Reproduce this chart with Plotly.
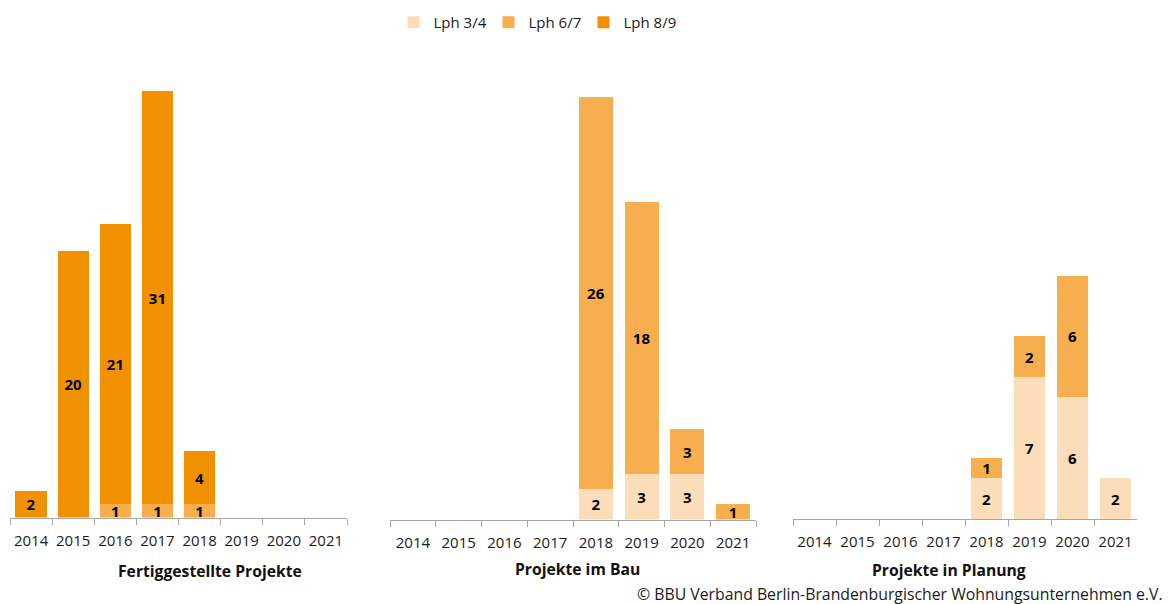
import plotly.graph_objects as go

# Projektstand nach Leistungsphasen (Anzahl Projekte je Jahr)
years = ["2014", "2015", "2016", "2017", "2018", "2019", "2020", "2021"]
series_names = ["Lph 3/4", "Lph 6/7", "Lph 8/9"]
panel_titles = ["Fertiggestellte Projekte", "Projekte im Bau", "Projekte in Planung"]

fertig_lph34 = [None, None, None, None, None, None, None, None]
fertig_lph67 = [None, None, 1, 1, 1, None, None, None]
fertig_lph89 = [2, 20, 21, 31, 4, None, None, None]

bau_lph34 = [None, None, None, None, 2, 3, 3, None]
bau_lph67 = [None, None, None, None, 26, 18, 3, 1]
bau_lph89 = [None, None, None, None, None, None, None, None]

planung_lph34 = [None, None, None, None, 2, 7, 6, 2]
planung_lph67 = [None, None, None, None, 1, 2, 6, None]
planung_lph89 = [None, None, None, None, None, None, None, None]

colors = ["#FCDDB9", "#F6AE4F", "#F29100"]

W, H = 1168, 604
FONT = "Open Sans"


def fx(p):
    return p / W


def fy(p):
    return 1 - p / H


# plot areas in pixels: (x0, x1, y_top, y_axis, y_max)
panels = [
    (10, 347, 51, 517.5, 35),
    (390, 756, 66.5, 519.5, 30),
    (793, 1137, 235, 519, 14),
]
panel_data = [
    [fertig_lph34, fertig_lph67, fertig_lph89],
    [bau_lph34, bau_lph67, bau_lph89],
    [planung_lph34, planung_lph67, planung_lph89],
]

fig = go.Figure()

for i, series in enumerate(panel_data):
    suffix = "" if i == 0 else str(i + 1)
    for name, vals, col in zip(series_names, series, colors):
        fig.add_trace(go.Bar(
            x=years,
            y=vals,
            name=name,
            legendgroup=name,
            showlegend=(i == 0),
            marker=dict(color=col, line=dict(width=0)),
            text=["" if v is None else str(v) for v in vals],
            textposition="inside",
            insidetextanchor="middle",
            textangle=0,
            textfont=dict(family=FONT, size=15, color="#000000", weight="bold"),
            xaxis="x" + suffix,
            yaxis="y" + suffix,
            hoverinfo="x+y+name",
        ))

layout = dict(
    width=W,
    height=H,
    autosize=False,
    margin=dict(l=0, r=0, t=0, b=0),
    paper_bgcolor="white",
    plot_bgcolor="white",
    barmode="stack",
    bargap=0.26,
    uniformtext=dict(mode="show", minsize=15),
    font=dict(family=FONT, size=15, color="#1a1a1a"),
    showlegend=True,
    legend=dict(
        orientation="h",
        x=fx(536), xanchor="center",
        y=fy(6), yanchor="top",
        font=dict(family=FONT, size=15, color="#1a1a1a"),
        itemwidth=30,
        entrywidth=50,
        traceorder="normal",
    ),
)

annotations = []
for i, (x0, x1, yt, ya, ymax) in enumerate(panels):
    suffix = "" if i == 0 else str(i + 1)
    layout["xaxis" + suffix] = dict(
        domain=[fx(x0), fx(x1)],
        anchor="y" + suffix,
        type="category",
        range=[-0.5, 7.5],
        showline=True,
        linecolor="#A6A6A6",
        linewidth=1.3,
        ticks="outside",
        tickson="boundaries",
        ticklen=6,
        tickcolor="#A6A6A6",
        tickwidth=1.3,
        tickangle=0,
        showgrid=False,
        zeroline=False,
        ticklabelstandoff=9,
        tickfont=dict(family=FONT, size=15, color="#1a1a1a"),
        fixedrange=True,
    )
    layout["yaxis" + suffix] = dict(
        domain=[fy(ya), fy(yt)],
        anchor="x" + suffix,
        range=[0, ymax],
        visible=False,
        showgrid=False,
        zeroline=False,
        fixedrange=True,
    )

title_pos = [(210, 571), (577, 569), (949, 570)]
for title, (tx, ty) in zip(panel_titles, title_pos):
    annotations.append(dict(
        text="<b>" + title + "</b>",
        x=fx(tx), y=fy(ty), xref="paper", yref="paper",
        xanchor="center", yanchor="middle", showarrow=False,
        font=dict(family=FONT, size=15.7, color="#111111"),
    ))

annotations.append(dict(
    text="© BBU Verband Berlin-Brandenburgischer Wohnungsunternehmen e.V.",
    x=fx(1165), y=fy(594), xref="paper", yref="paper",
    xanchor="right", yanchor="middle", showarrow=False,
    font=dict(family=FONT, size=15.8, color="#1a1a1a"),
))

layout["annotations"] = annotations
fig.update_layout(**layout)

fig.write_html("out.html", config={"responsive": False})
